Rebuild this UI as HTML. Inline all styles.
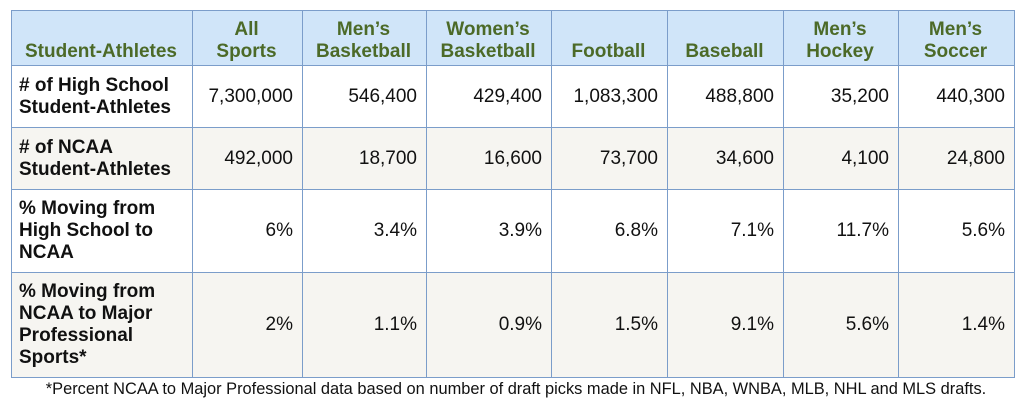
<!DOCTYPE html>
<html><head><style>
body{margin:0;width:1024px;height:407px;background:#fff;font-family:"Liberation Sans",Arial,sans-serif;position:relative;overflow:hidden}
table{position:absolute;left:11px;top:10px;border-collapse:collapse;table-layout:fixed}
td{border:1.5px solid #7b9dca;font-size:19px;color:#111;padding:0 9px 0 7px;text-align:right;line-height:22px}
tr.h td{background:#d0e5f9;color:#4c6a28;font-weight:bold;text-align:center;vertical-align:bottom;padding-bottom:2px;height:52px}
td.l{text-align:left;font-weight:bold;color:#111}
tr.g td{background:#f6f5f1}
.f{position:absolute;left:4px;width:1024px;top:380px;text-align:center;font-size:16.4px;color:#111;white-space:nowrap}
</style></head><body>
<table>
<colgroup><col style="width:181px"><col style="width:110px"><col style="width:124px"><col style="width:125px"><col style="width:116px"><col style="width:116px"><col style="width:115px"><col style="width:116px"></colgroup>
<tr class="h"><td>Student-Athletes</td><td>All<br>Sports</td><td>Men’s<br>Basketball</td><td>Women’s<br>Basketball</td><td>Football</td><td>Baseball</td><td>Men’s<br>Hockey</td><td>Men’s<br>Soccer</td></tr>
<tr style="height:62px"><td class="l">#&nbsp;of High School<br>Student-Athletes</td><td>7,300,000</td><td>546,400</td><td>429,400</td><td>1,083,300</td><td>488,800</td><td>35,200</td><td>440,300</td></tr>
<tr class="g" style="height:62px"><td class="l"># of NCAA<br>Student-Athletes</td><td>492,000</td><td>18,700</td><td>16,600</td><td>73,700</td><td>34,600</td><td>4,100</td><td>24,800</td></tr>
<tr style="height:83px"><td class="l">% Moving from<br>High School to<br>NCAA</td><td>6%</td><td>3.4%</td><td>3.9%</td><td>6.8%</td><td>7.1%</td><td>11.7%</td><td>5.6%</td></tr>
<tr class="g" style="height:105px"><td class="l">% Moving from<br>NCAA to Major<br>Professional<br>Sports*</td><td>2%</td><td>1.1%</td><td>0.9%</td><td>1.5%</td><td>9.1%</td><td>5.6%</td><td>1.4%</td></tr>
</table>
<div class="f">*Percent NCAA to Major Professional data based on number of draft picks made in NFL, NBA, WNBA, MLB, NHL and MLS drafts.</div>
</body></html>
